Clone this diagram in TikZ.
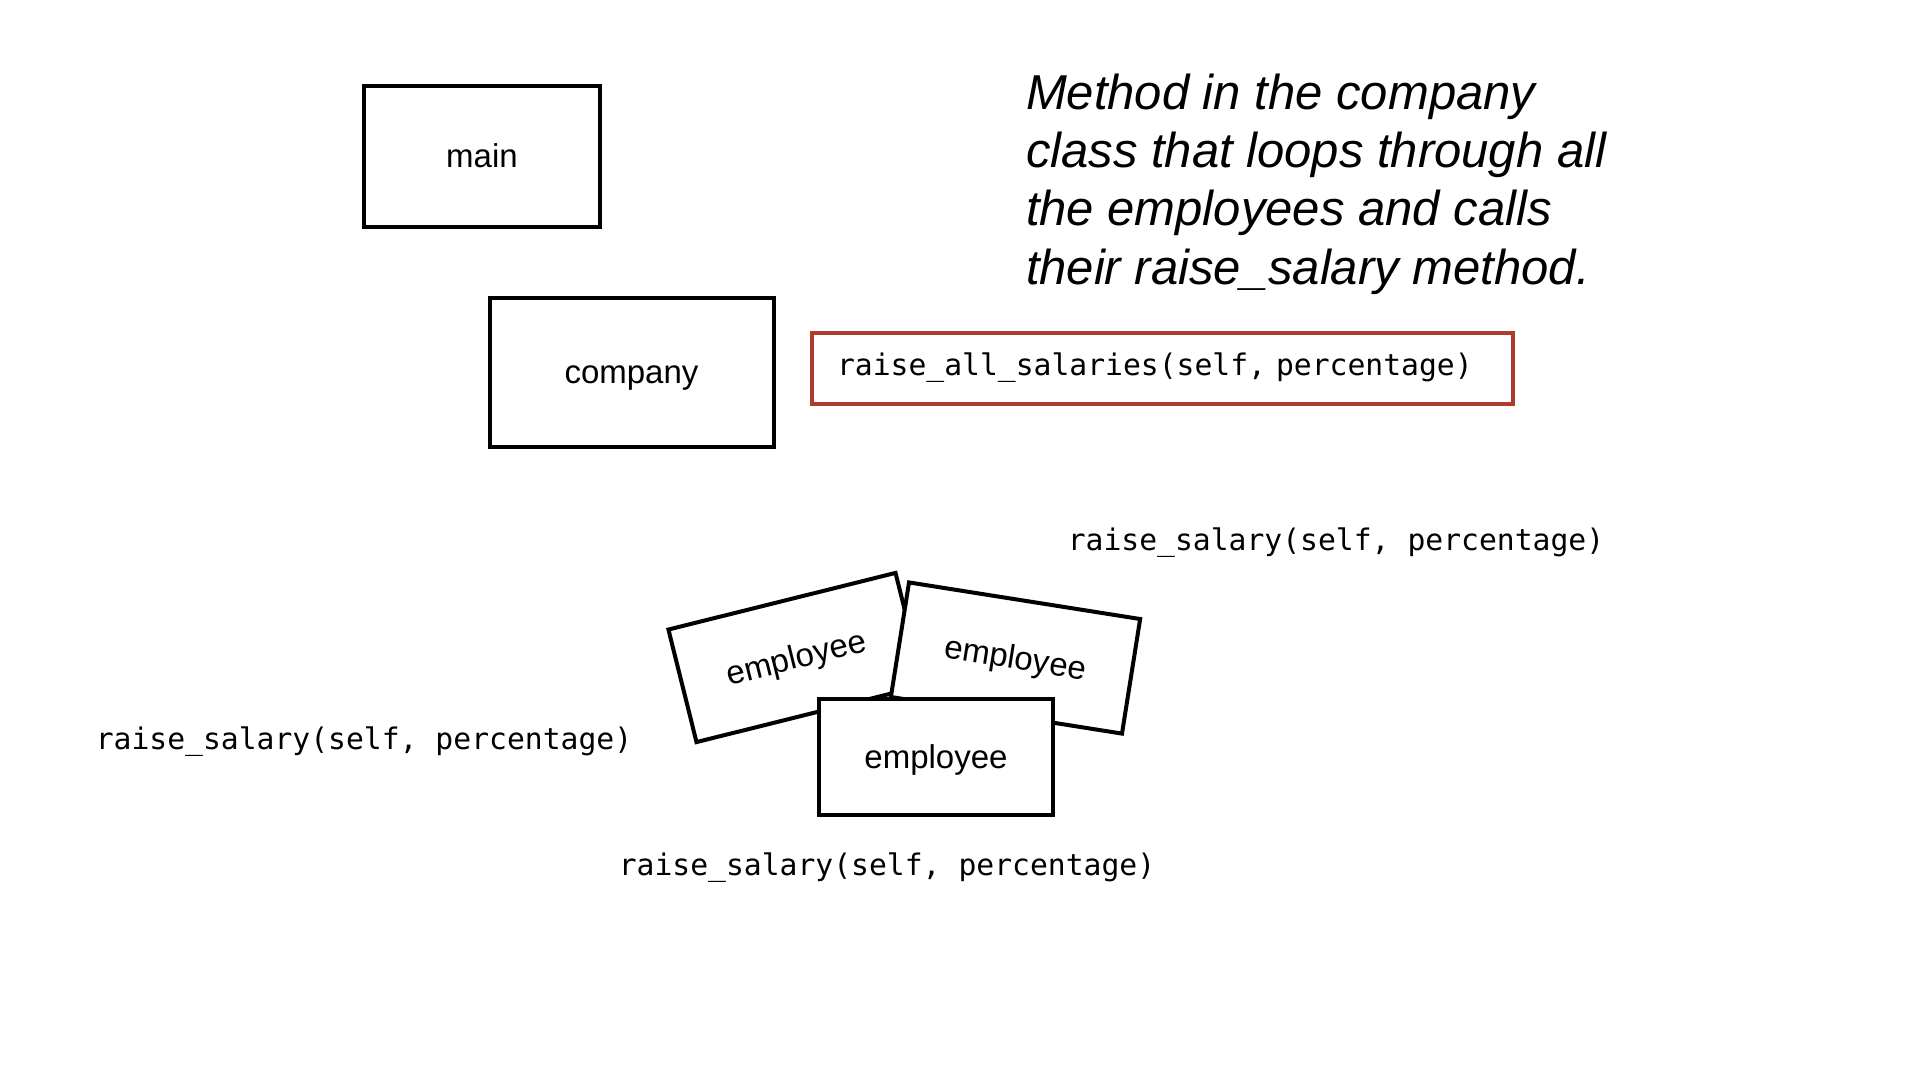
\documentclass[tikz,border=0pt]{standalone}
\usepackage{fontspec}
\setmainfont{Liberation Sans}
\newfontfamily\codefont{DejaVu Sans Mono}
\usepackage{xcolor}
\definecolor{boxred}{RGB}{176,58,46}

\begin{document}
\begin{tikzpicture}[
    x = 1pt, y = -1pt,
    line width = 4pt,
    box/.style = {draw=black, fill=white, inner sep=0pt,
        text height=22pt, text depth=0pt,
        font=\fontsize{33}{40}\selectfont},
    empbox/.style = {box, minimum width=234, minimum height=116},
    code/.style = {font=\codefont\fontsize{29.7}{36}\selectfont, inner sep=0pt}]
    \useasboundingbox (0,0) rectangle (1920,1080);
    % NODES
    % node main
    \node[box, minimum width=236, minimum height=141] (main) at (482,156) {main};
    % node company
    \node[box, minimum width=284, minimum height=149] (company) at (631.5,372.5) {company};
    % method box of company
    \node[draw=boxred, code, text width=651, align=left, inner xsep=25,
        minimum height=71] (raiseall) at (1162.5,368) {raise\_all\_salaries(self, percentage)};
    % note on the method
    \node[anchor=west, align=left, inner sep=0pt,
        font=\itshape\fontsize{49}{58.4}\selectfont] (note) at (1024,184)
        {Method in the company\\class that loops through all\\the employees and calls\\their raise\_salary method.};

    % employees, back to front
    \node[empbox, rotate=14] (empA) at (796,657.5) {employee};
    \node[empbox, rotate=-9] (empB) at (1015.5,658) {employee};
    \node[empbox] (empC) at (936,757) {employee};

    % method of each employee
    \node[code] (callA) at (364,742) {raise\_salary(self, percentage)};
    \node[code] (callB) at (1336,543) {raise\_salary(self, percentage)};
    \node[code] (callC) at (887,868) {raise\_salary(self, percentage)};
  \end{tikzpicture}
\end{document}
